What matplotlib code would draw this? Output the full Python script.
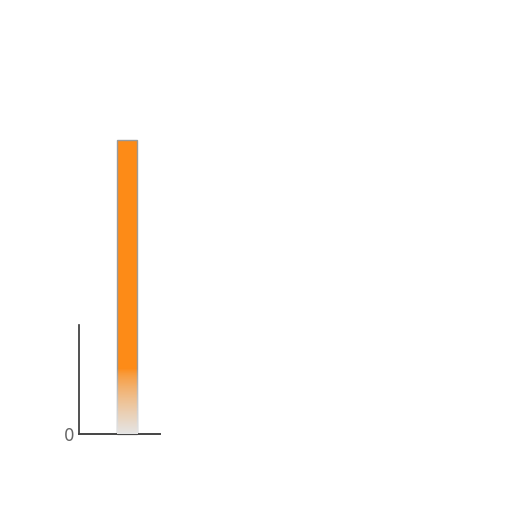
#!/usr/bin/env python3
"""Single tall bar, faded at the base."""
import numpy as np
import matplotlib
matplotlib.use('Agg')
import matplotlib.pyplot as plt

categories = ['A']
values = [2.7]

BAR = '#fd8b17'
EDGE = '#9a9a9a'

fig = plt.figure(figsize=(5.12, 5.12), dpi=100)
ax = fig.add_axes([79 / 512, 78 / 512, 81 / 512, 109 / 512])

bars = ax.bar(categories, values, width=0.25, color=BAR, edgecolor=EDGE,
              linewidth=1.0, clip_on=False, zorder=2)

XLIM = (-0.593, 0.407)
ax.set_xlim(*XLIM)
ax.set_ylim(0, 1)
ax.set_yticks([0])
ax.set_yticklabels(['0'], fontsize=12, color='#666666')
ax.set_xticks([])
ax.tick_params(axis='y', length=0, pad=3)
for side in ('top', 'right'):
    ax.spines[side].set_visible(False)
ax.spines['left'].set_color('#333333')
ax.spines['bottom'].set_color('#444444')
ax.spines['left'].set_linewidth(1.2)
ax.spines['bottom'].set_linewidth(1.4)

# washed-out base of the bar
b = bars[0]
x0 = b.get_x()
w = b.get_width()
fade = np.zeros((100, 1, 4))
fade[..., :3] = 0.9
fade[:, 0, 3] = np.clip(1 - np.linspace(0, 1, 100) / 0.6, 0, 1) ** 0.7
img = ax.imshow(fade, extent=(x0, x0 + w, 0, 1), origin='lower',
                aspect='auto', zorder=3, clip_on=False)
img.set_clip_path(b)
ax.set_xlim(*XLIM)
ax.set_ylim(0, 1)

fig.savefig('out.png', dpi=100, facecolor='white')
